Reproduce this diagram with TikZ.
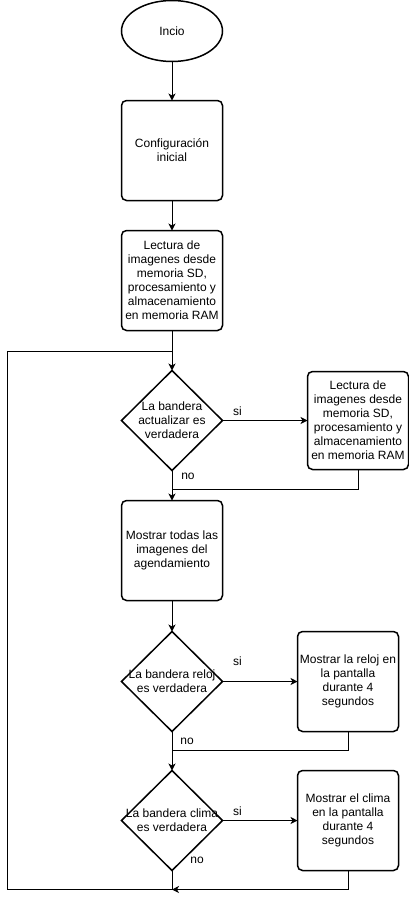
\documentclass[tikz,border=0pt]{standalone}
\usepackage{fontspec}
\setmainfont{Liberation Sans}
\usetikzlibrary{arrows.meta,positioning,shapes.geometric}

\begin{document}
\begin{tikzpicture}[x=1pt,y=-1pt,
  font=\fontsize{12}{14}\selectfont,
  proc/.style={draw,line width=1.5pt,rounded corners=5pt,align=center,minimum width=101pt,minimum height=100pt,inner sep=1pt,outer sep=0pt},
  term/.style={draw,ellipse,line width=1.5pt,minimum width=101pt,minimum height=61pt,outer sep=0pt},
  dec/.style={draw,diamond,line width=1.5pt,minimum width=101pt,minimum height=100pt,inner sep=0pt,outer sep=0pt},
  dtext/.style={align=center,inner sep=0pt},
  arr/.style={-{Stealth[length=7pt,width=7pt,inset=2pt]},line width=0.9pt},
  lin/.style={line width=0.9pt},
  tag/.style={inner sep=1pt,pos=0}]
  \useasboundingbox (0,0) rectangle (409,900);
  \node[term] (inicio) at (172,31) {Incio};
  \node[proc,below=39pt of inicio] (config) {Configuración\\inicial};
  \node[proc,below=30pt of config] (lectura) {Lectura de\\imagenes desde\\memoria SD,\\procesamiento y\\almacenamiento\\en memoria RAM};
  \node[dec,below=40pt of lectura,label={[dtext]center:{La bandera\\actualizar es\\verdadera}}] (actualizar) {};
  \node[proc,right=85pt of actualizar,minimum height=98pt] (lectura2) {Lectura de\\imagenes desde\\memoria SD,\\procesamiento y\\almacenamiento\\en memoria RAM};
  \node[proc,below=30pt of actualizar] (mostrar) {Mostrar todas las\\imagenes del\\agendamiento};
  \node[dec,below=31pt of mostrar,label={[dtext]center:{La bandera reloj\\es verdadera}}] (reloj) {};
  \node[proc,right=75pt of reloj] (mreloj) {Mostrar la reloj en\\la pantalla\\durante 4\\segundos};
  \node[dec,below=39pt of reloj,label={[dtext]center:{La bandera clima\\es verdadera}}] (clima) {};
  \node[proc,right=75pt of clima] (mclima) {Mostrar el clima\\en la pantalla\\durante 4\\segundos};
  % puntos de union
  \coordinate (join1) at ([yshift=19pt]actualizar.north);
  \coordinate (join2) at ([yshift=-19pt]actualizar.south);
  \coordinate (join3) at ([yshift=-19pt]reloj.south);
  \coordinate (join4) at ([yshift=-19pt]clima.south);
  \coordinate (loopLeft) at ([xshift=-164.5pt]join4);
  \draw[arr] (inicio) -- (config);
  \draw[arr] (config) -- (lectura);
  \draw[lin] (lectura) -- (join1);
  \draw[arr] (join1) -- (actualizar);
  \draw[arr] (actualizar) -- node[tag,xshift=15pt,yshift=9pt]{si} (lectura2);
  \draw[lin] (actualizar) -- node[tag,xshift=16pt,yshift=-6pt]{no} (join2);
  \draw[lin] (lectura2.south) |- (join2);
  \draw[arr] (join2) -- (mostrar);
  \draw[arr] (mostrar) -- (reloj);
  \draw[arr] (reloj) -- node[tag,xshift=15pt,yshift=20pt]{si} (mreloj);
  \draw[lin] (reloj) -- node[tag,xshift=15pt,yshift=-10pt]{no} (join3);
  \draw[lin] (mreloj.south) |- (join3);
  \draw[arr] (join3) -- (clima);
  \draw[arr] (clima) -- node[tag,xshift=15pt,yshift=9pt]{si} (mclima);
  \draw[lin] (clima) -- node[tag,xshift=25pt,yshift=10pt]{no} (join4);
  \draw[arr] (mclima.south) |- (join4);
  \draw[lin] (join4) -- (loopLeft) |- (join1);
\end{tikzpicture}
\end{document}
